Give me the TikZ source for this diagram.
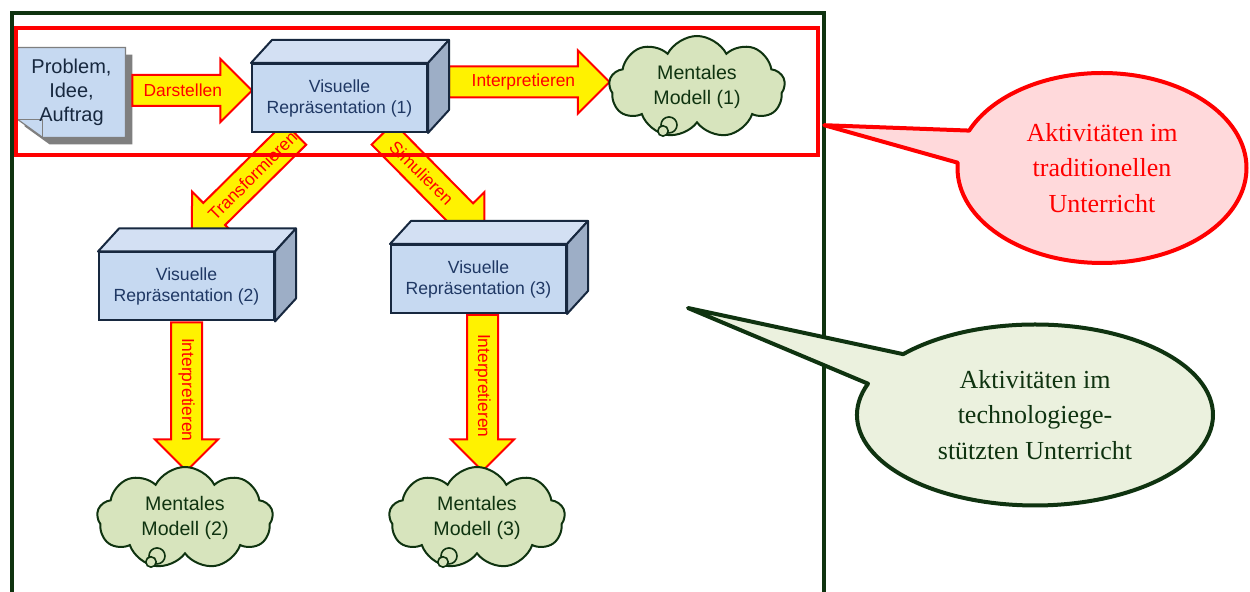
\documentclass[tikz,border=0pt]{standalone}
\usepackage{fontspec}
\setmainfont{Liberation Serif}
\setsansfont{Liberation Sans}
\usetikzlibrary{calc,backgrounds,shapes.arrows,shapes.symbols,shapes.callouts}

\definecolor{boxfront}{HTML}{C6D9F1}
\definecolor{boxtop}{HTML}{D3E0F3}
\definecolor{boxside}{HTML}{9DAEC6}
\definecolor{boxline}{HTML}{17283F}
\definecolor{boxtext}{HTML}{1F3864}
\definecolor{notegray}{HTML}{7F7F7F}
\definecolor{cloudfill}{HTML}{D7E4BD}
\definecolor{darkgreen}{HTML}{0F3310}
\definecolor{calloutpink}{HTML}{FFD9DB}
\definecolor{calloutgreen}{HTML}{EBF1DE}

\tikzset{vr/.style={draw=boxline, fill=boxfront, line width=1pt, minimum width=87.5pt, minimum height=34pt,
    align=center, text=boxtext, font=\sffamily\fontsize{8.8}{10.5}\selectfont}}
\tikzset{notiz/.style={minimum width=53.5pt, minimum height=44.5pt, inner sep=0pt, align=center,
    text=boxline, font=\sffamily\fontsize{10}{12}\selectfont}}
\tikzset{wolke/.style={cloud, cloud puffs=9, cloud puff arc=125, cloud ignores aspect, minimum width=88pt,
    minimum height=51pt, draw=darkgreen, fill=cloudfill, line width=1pt, inner sep=0pt, align=center,
    text=darkgreen, font=\sffamily\fontsize{9.8}{12.2}\selectfont}}
\tikzset{blase/.style={draw=darkgreen, fill=cloudfill, line width=0.8pt}}
\tikzset{fatarrow/.style={single arrow, draw=red, fill=yellow, line width=1pt, inner xsep=0pt, inner ysep=7.25pt,
    minimum width=1pt, single arrow head extend=8pt, single arrow tip angle=90}}
\tikzset{arrowlabel/.style={inner sep=0pt, text=red, font=\sffamily\fontsize{8.7}{10}\selectfont}}
\tikzset{sprechrot/.style={ellipse callout, callout pointer arc=20, draw=red, fill=calloutpink, line width=2pt,
    line join=round, minimum width=144.5pt, minimum height=95pt, align=center, text=red,
    font=\fontsize{13}{17.9}\selectfont}}
\tikzset{sprechgruen/.style={ellipse callout, callout pointer arc=22, draw=darkgreen, fill=calloutgreen, line width=2pt,
    line join=round, minimum width=178pt, minimum height=90.5pt, align=center, text=darkgreen,
    font=\fontsize{13}{17.6}\selectfont}}

% top and right face of a box
\newcommand{\quaderseiten}[1]{%
  \draw[boxline, line width=1pt, fill=boxtop, line join=round] (#1.north west) -- ($(#1.north west)+(21,-23)$)
    -- ($(#1.north east)+(21,-23)$) -- (#1.north east) -- cycle;
  \draw[boxline, line width=1pt, fill=boxside, line join=round] (#1.north east) -- ($(#1.north east)+(21,-23)$)
    -- ($(#1.south east)+(21,-23)$) -- (#1.south east) -- cycle;
}

% block arrow from #2 to #3, label #4 turned by #5
\newcommand{\dickpfeil}[5][0.44]{%
  \path let \p1=(#2), \p2=(#3),
    \n1={atan2(\y2-\y1,\x2-\x1)}, \n2={veclen(\x2-\x1,\y2-\y1)} in
    node[fatarrow, minimum height=\n2, rotate=\n1, anchor=tail] at (\p1) {}
    node[arrowlabel, rotate=#5] at ($(\p1)!#1!(\p2)$) {#4};
}

\begin{document}
\begin{tikzpicture}[x=0.5pt,y=-0.5pt]
\useasboundingbox (0,0) rectangle (1250,592);
\begin{pgfonlayer}{background}
  \fill[white] (0,0) rectangle (1250,592);
\end{pgfonlayer}

% frames
\node[draw=darkgreen, line width=2pt, minimum width=406pt, minimum height=291pt] (tech) at (418,304) {};
\node[draw=red, line width=2.2pt, minimum width=401pt, minimum height=63.5pt] (trad) at (417,91.5) {};

% note
\node[notiz] (prob) at (71.5,92.5) {Problem,\\Idee,\\Auftrag};
\begin{pgfonlayer}{background}
  \fill[notegray] ($(prob.north west)+(7,7)$) -- ($(prob.north east)+(7,7)$) -- ($(prob.south east)+(7,7)$)
    -- ($(prob.south west)+(32,7)$) -- ($(prob.south west)+(7,-11)$) -- cycle;
  \draw[notegray, line width=0.6pt, fill=boxfront] (prob.north west) -- (prob.north east) -- (prob.south east)
    -- ($(prob.south west)+(25,0)$) -- ($(prob.south west)+(0,-18)$) -- cycle;
  \draw[notegray, line width=0.6pt] ($(prob.south west)+(0,-18)$) -- ($(prob.south west)+(25,-18)$)
    -- ($(prob.south west)+(25,0)$);
\end{pgfonlayer}

% boxes
\node[vr] (v1) at (339.5,98) {Visuelle\\Repräsentation (1)};
\node[vr] (v2) at (186.5,286.5) {Visuelle\\Repräsentation (2)};
\node[vr] (v3) at (478.5,279) {Visuelle\\Repräsentation (3)};
\foreach \b in {v1,v2,v3} {\quaderseiten{\b}}

% clouds
\node[wolke] (m1) at (697,87) {Mentales\\Modell (1)};
\node[wolke] (m2) at (185,518) {Mentales\\Modell (2)};
\node[wolke] (m3) at (477,518) {Mentales\\Modell (3)};
\foreach \w in {m1,m2,m3} {
  \draw[blase] ($(\w.south)+(-28,1)$) circle[radius=4pt];
  \draw[blase] ($(\w.south)+(-34,7)$) circle[radius=2.6pt];
}

% arrows
\coordinate (d0) at ($(prob.east)+(6,-2)$);
\coordinate (d1) at (d0 -| v1.west);
\coordinate (i0) at ($(v1.east)+(20,-16)$);
\coordinate (i1) at (i0 -| m1.west);
\coordinate (t0) at ($(v1.south west)+(45,0)$);
\coordinate (t1) at ($(v2.north)+(6,-16)$);
\coordinate (s0) at ($(v1.south west)+(131,0)$);
\coordinate (s1) at ($(v3.north)+(5,-8)$);
\coordinate (a0) at (v2.south);
\coordinate (a1) at ($(a0 |- m2.north)+(0,4)$);
\coordinate (b0) at ($(v3.south)+(4,0)$);
\coordinate (b1) at ($(b0 |- m3.north)+(0,4)$);
\begin{pgfonlayer}{background}
  \dickpfeil[0.43]{d0}{d1}{Darstellen}{0}
  \dickpfeil[0.47]{i0}{i1}{Interpretieren}{0}
  \dickpfeil[0.42]{t0}{t1}{Transformieren}{45}
  \dickpfeil[0.39]{s0}{s1}{Simulieren}{-45}
  \dickpfeil[0.46]{a0}{a1}{Interpretieren}{-90}
  \dickpfeil[0.46]{b0}{b1}{Interpretieren}{-90}
\end{pgfonlayer}

% callouts
\coordinate (z1) at ($(trad.south east)+(4,-32)$);
\coordinate (z2) at (688,308);
\node[sprechrot, callout absolute pointer={(z1)}] (c1) at (1102,168) {Aktivitäten im\\traditionellen\\Unterricht};
\node[sprechgruen, callout absolute pointer={(z2)}] (c2) at (1035,415) {Aktivitäten im\\technologiege-\\stützten Unterricht};
\end{tikzpicture}
\end{document}
